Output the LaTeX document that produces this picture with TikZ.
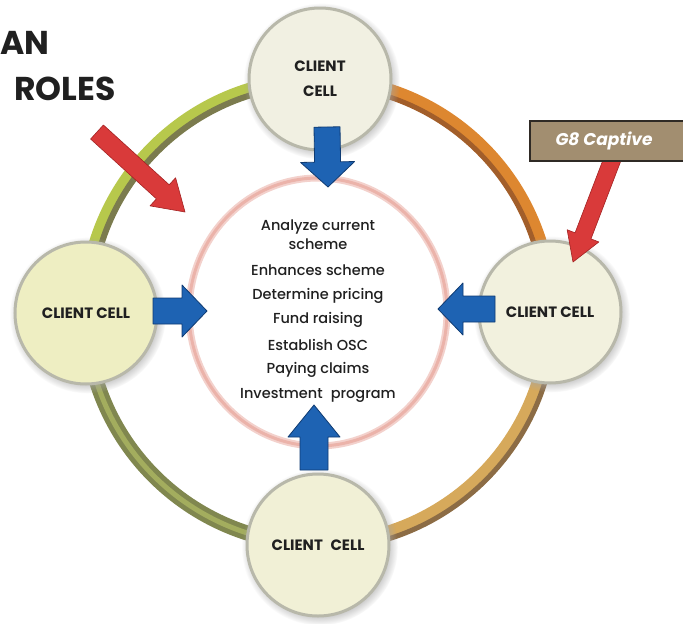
\documentclass[tikz,border=0pt]{standalone}
\usepackage{fontspec}
\setmainfont{Poppins}
\newfontfamily\medfont{Poppins}[UprightFont={* Medium}]
\usetikzlibrary{calc,shadows}

\definecolor{textdark}{HTML}{202020}
\definecolor{limeA}{HTML}{B7C84C}
\definecolor{limeB}{HTML}{7B7B4E}
\definecolor{oliveA}{HTML}{80874F}
\definecolor{oliveB}{HTML}{A3AD5E}
\definecolor{orangeA}{HTML}{DD8730}
\definecolor{orangeB}{HTML}{A25E2A}
\definecolor{tanA}{HTML}{D6A95B}
\definecolor{tanB}{HTML}{8C6C45}
\definecolor{pinkring}{HTML}{EBB3AA}
\definecolor{cellrim}{HTML}{B8B8AA}
\definecolor{blueA}{HTML}{1E63B3}
\definecolor{blueB}{HTML}{0F3B72}
\definecolor{redA}{HTML}{D93A3A}
\definecolor{redB}{HTML}{A32222}
\definecolor{taupe}{HTML}{A28E70}

% block arrow: style, tail, tip, half shaft width, half head width, head length
\newcommand\blockarrow[6]{%
  \coordinate (ba-base) at ($(#3)!#6!(#2)$);
  \path[#1] ($(#2)!#4!90:(#3)$) -- ($(ba-base)!#4!-90:(#2)$)
    -- ($(ba-base)!#5!-90:(#2)$) -- (#3) -- ($(ba-base)!#5!90:(#2)$)
    -- ($(ba-base)!#4!90:(#2)$) -- ($(#2)!#4!-90:(#3)$) -- cycle;}

\begin{document}
\begin{tikzpicture}[x=1pt,y=-1pt,
  cell/.style={circle, minimum size=142pt, inner sep=0pt, draw=cellrim,
    line width=3pt, align=center, text=textdark,
    font=\bfseries\fontsize{15}{25}\selectfont,
    circular drop shadow={shadow xshift=1.5pt, shadow yshift=-2pt, fill=black!35, opacity=.7}},
  item/.style={text=textdark, font=\medfont\fontsize{14.5}{16}\selectfont, inner sep=0pt},
  bluearrow/.style={fill=blueA, draw=blueB, line width=0.8pt, line join=round},
  redarrow/.style={fill=redA, draw=redB, line width=0.6pt, line join=round}]

\fill[white] (0,0) rectangle (683,624);
\useasboundingbox (0,0) rectangle (683,624);

\coordinate (ctr) at (318,312);

% outer ring, one colour pair per quarter
\draw[line width=15pt, limeA] (ctr) ++(180:232) arc[start angle=180, end angle=270, radius=232];
\draw[line width=6pt, limeB] (ctr) ++(180:227) arc[start angle=180, end angle=270, radius=227];
\draw[line width=15pt, orangeA] (ctr) ++(270:232) arc[start angle=270, end angle=360, radius=232];
\draw[line width=5pt, orangeB] (ctr) ++(270:226.5) arc[start angle=270, end angle=360, radius=226.5];
\draw[line width=15pt, tanA] (ctr) ++(0:232) arc[start angle=0, end angle=90, radius=232];
\draw[line width=5pt, tanB] (ctr) ++(0:237.5) arc[start angle=0, end angle=90, radius=237.5];
\draw[line width=15pt, oliveA] (ctr) ++(90:232) arc[start angle=90, end angle=180, radius=232];
\draw[line width=5pt, oliveB] (ctr) ++(90:232) arc[start angle=90, end angle=180, radius=232];

% soft pink inner circle
\draw[pinkring!60, line width=7pt] (ctr) ellipse[x radius=129, y radius=134];
\draw[pinkring, line width=3pt] (ctr) ellipse[x radius=129, y radius=134];

% client cells
\node[cell, fill={rgb,255:red,241;green,240;blue,226}] (top) at (320,79) {CLIENT\\CELL};
\node[cell, fill={rgb,255:red,238;green,238;blue,194}] (left) at (86,313) {CLIENT CELL};
\node[cell, fill={rgb,255:red,242;green,241;blue,222}] (right) at (550,312) {CLIENT CELL};
\node[cell, fill={rgb,255:red,241;green,240;blue,214}] (bottom) at (318,545) {CLIENT\hspace{0.3em} CELL};

% blue arrows into the centre
\coordinate (ta) at (327,127);  \coordinate (tb) at (328,187);
\coordinate (la) at (153,311);  \coordinate (lb) at (207,311);
\coordinate (ra) at (495,309);  \coordinate (rb) at (438,309);
\coordinate (bta) at (314,470); \coordinate (btb) at (314,405);
\blockarrow{bluearrow}{ta}{tb}{13pt}{27pt}{25pt}
\blockarrow{bluearrow}{la}{lb}{13pt}{26pt}{25pt}
\blockarrow{bluearrow}{ra}{rb}{13pt}{26pt}{25pt}
\blockarrow{bluearrow}{bta}{btb}{14pt}{26pt}{32pt}

% roles listed in the centre
\node[item] (i1) at (318,227) {Analyze current};
\node[item] (i2) at (318,244) {scheme};
\node[item] (i3) at (318,270) {Enhances scheme};
\node[item] (i4) at (318,296) {Determine pricing};
\node[item] (i5) at (318,320) {Fund raising};
\node[item] (i6) at (318,345) {Establish OSC};
\node[item] (i7) at (318,370) {Paying claims};
\node[item] (i8) at (318,395) {Investment\hspace{0.3em} program};

% title
\node[anchor=east, inner sep=0pt, text=textdark, font=\bfseries\fontsize{33}{33}\selectfont] (t1) at (50,43) {AN};
\node[anchor=east, inner sep=0pt, text=textdark, font=\bfseries\fontsize{33}{33}\selectfont] (t2) at (116,89) {ROLES};

% red arrows
\coordinate (rla) at (97,132);  \coordinate (rlb) at (185,212);
\blockarrow{redarrow}{rla}{rlb}{9.5pt}{19pt}{30pt}
\coordinate (rra) at (614,155); \coordinate (rrb) at (573,262);
\blockarrow{redarrow}{rra}{rrb}{8.5pt}{17pt}{28pt}

% G8 Captive label
\node[anchor=north west, draw={rgb,255:red,47;green,42;blue,37}, line width=1.5pt, fill=taupe,
  minimum width=170pt, minimum height=40pt, inner sep=0pt] (g8box) at (529,120) {};
\node[text=white, font=\bfseries\itshape\fontsize{17}{17}\selectfont] (g8) at (604,141) {G8 Captive};

\end{tikzpicture}
\end{document}
